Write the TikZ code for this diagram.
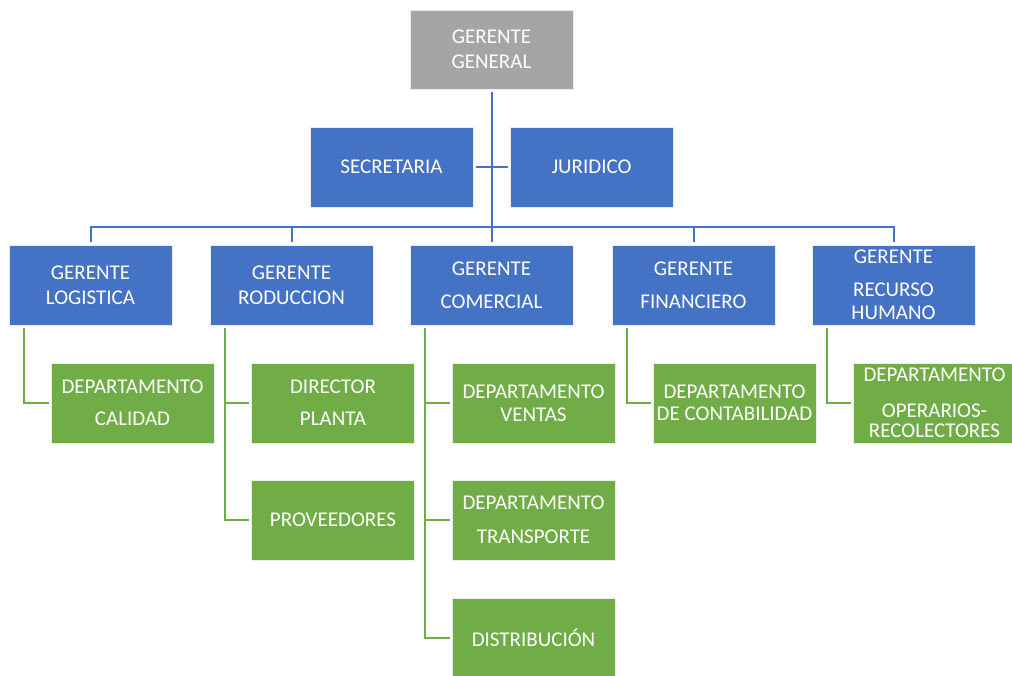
\documentclass[tikz,border=0pt]{standalone}
\usepackage{fontspec}
\setmainfont{Carlito}
\definecolor{azulo}{HTML}{4472C4}
\definecolor{verdeo}{HTML}{70AD47}
\definecolor{grisg}{HTML}{A5A5A5}
\begin{document}
\begin{tikzpicture}[x=1pt,y=-1pt,
    caja/.style={minimum width=163pt,minimum height=80pt,inner sep=0pt,align=center,
      text=white,draw=white!85!gray,line width=0.8pt,font=\fontsize{21}{25}\selectfont},
    azul/.style={caja,fill=azulo},
    verde/.style={caja,fill=verdeo},
    lazul/.style={draw=azulo,line width=2pt},
    lverde/.style={draw=verdeo,line width=2pt,shorten <=3pt,shorten >=2pt}]
    \fill[white] (0,0) rectangle (1012,675);
    \useasboundingbox (0,0) rectangle (1012,675);
    \node[caja,fill=grisg,minimum height=79pt] (a) at (491.5,49.5) {GERENTE\\GENERAL};
    \node[azul] (ba) at (391.5,167) {SECRETARIA};
    \node[azul] (bb) at (591.5,167) {JURIDICO};
    \node[azul] (ca) at (90.5,285) {GERENTE\\LOGISTICA};
    \node[azul] (cb) at (291.5,285) {GERENTE\\RODUCCION};
    \node[azul] (cc) at (491.5,285) {GERENTE\\[8pt]COMERCIAL};
    \node[azul] (cd) at (693.5,285) {GERENTE\\[8pt]FINANCIERO};
    \node[azul] (ce) at (893.5,285) {GERENTE\\[8pt]RECURSO\\[-2pt]HUMANO};
    \node[verde] (da) at (132.5,403) {DEPARTAMENTO\\[7pt]CALIDAD};
    \node[verde] (db) at (333,403) {DIRECTOR\\[7pt]PLANTA};
    \node[verde] (dc) at (333,520) {PROVEEDORES};
    \node[verde] (dd) at (533.5,403) {DEPARTAMENTO\\[-2pt]VENTAS};
    \node[verde] (de) at (533.5,520) {DEPARTAMENTO\\[9pt]TRANSPORTE};
    \node[verde] (df) at (533.5,638) {DISTRIBUCIÓN};
    \node[verde] (dg) at (734.5,403) {DEPARTAMENTO\\[-3pt]DE CONTABILIDAD};
    \node[verde] (dh) at (934.5,403) {DEPARTAMENTO\\[11pt]OPERARIOS-\\[-5pt]RECOLECTORES};
    \coordinate (bus) at (491.5,227);
    \draw[lazul,shorten <=3pt,shorten >=3pt] (a) -- (cc);
    \draw[lazul,shorten <=3pt,shorten >=2pt] (ba) -- (bb);
    \draw[lazul,shorten <=3pt,shorten >=3pt] (ca.north) |- (bus) -| (ce.north);
    \draw[lazul,shorten <=3pt] (cb.north) -- (cb.north |- bus);
    \draw[lazul,shorten <=3pt] (cd.north) -- (cd.north |- bus);
    \draw[lverde] ([xshift=15pt]ca.south west) |- (da);
    \draw[lverde] ([xshift=15pt]cb.south west) |- (db);
    \draw[lverde] ([xshift=15pt]cb.south west) |- (dc);
    \draw[lverde] ([xshift=15pt]cc.south west) |- (dd);
    \draw[lverde] ([xshift=15pt]cc.south west) |- (de);
    \draw[lverde] ([xshift=15pt]cc.south west) |- (df);
    \draw[lverde] ([xshift=15pt]cd.south west) |- (dg);
    \draw[lverde] ([xshift=15pt]ce.south west) |- (dh);
\end{tikzpicture}
\end{document}
